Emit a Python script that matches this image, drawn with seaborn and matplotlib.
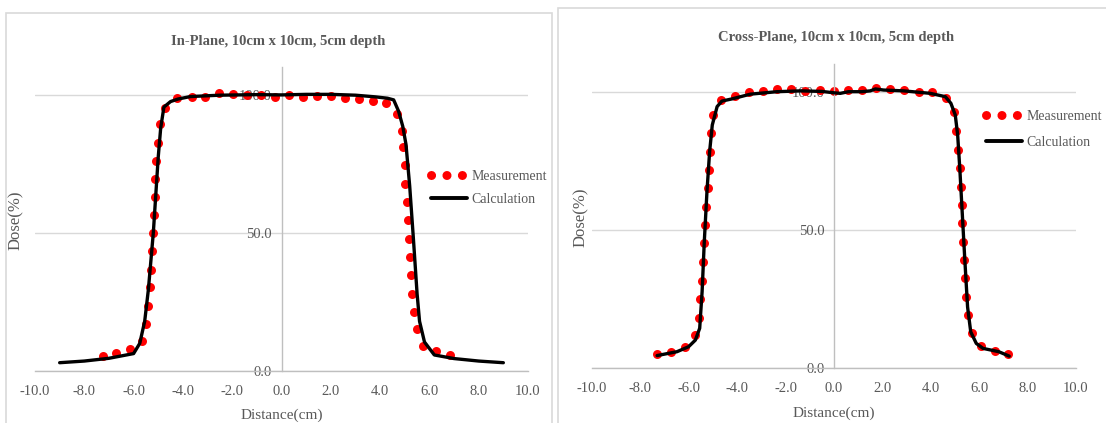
import matplotlib
matplotlib.use("Agg")
import matplotlib.pyplot as plt
from matplotlib.lines import Line2D
from matplotlib.patches import Rectangle
import seaborn as sns
import pandas as pd

# ---------------- data ----------------
in_meas_x = [-7.26, -6.71, -6.14, -5.67, -5.50, -5.40, -5.35, -5.31, -5.27, -5.22,
             -5.18, -5.15, -5.12, -5.08, -5.01, -4.91, -4.73, -4.24, -3.65, -3.10,
             -2.53, -1.95, -1.39, -0.84, -0.26, 0.32, 0.88, 1.45, 2.01, 2.58,
             3.14, 3.70, 4.25, 4.69, 4.87, 4.93, 4.99, 5.03, 5.09, 5.13,
             5.17, 5.22, 5.26, 5.30, 5.36, 5.48, 5.73, 6.28, 6.83]
in_meas_y = [5.6, 6.5, 7.9, 10.9, 17.1, 23.7, 30.3, 36.7, 43.3, 49.8,
             56.4, 63.1, 69.6, 76.1, 82.6, 89.2, 95.2, 98.7, 99.2, 99.3,
             100.6, 100.2, 100.0, 99.8, 99.2, 99.8, 99.2, 99.4, 99.4, 98.8,
             98.6, 97.6, 96.8, 93.1, 87.0, 80.9, 74.4, 67.8, 61.3, 54.6,
             47.9, 41.3, 34.6, 28.0, 21.5, 15.1, 9.2, 7.1, 5.8]
in_calc_x = [-9.0, -8.0, -7.0, -6.0, -5.75, -5.55, -5.4, -5.2, -5.0, -4.9, -4.77,
             -4.5, -4.2, -3.7, -2.5, -1.0, 0.0, 1.0, 2.0, 3.0, 3.8, 4.3, 4.55,
             4.75, 4.92, 5.05, 5.2, 5.35, 5.5, 5.6, 5.8, 6.2, 7.0, 8.0, 9.0]
in_calc_y = [3.0, 3.6, 4.6, 6.3, 10.0, 18.0, 29.5, 50.0, 77.5, 88.0, 95.5,
             97.5, 98.4, 99.3, 99.8, 100.0, 99.9, 100.1, 100.1, 99.8, 99.2, 98.7, 98.1,
             94.0, 88.5, 82.0, 67.0, 48.0, 28.0, 18.0, 10.5, 5.8, 4.5, 3.6, 3.0]

cross_meas_x = [-7.31, -6.74, -6.17, -5.73, -5.59, -5.52, -5.45, -5.41, -5.36, -5.32,
                -5.28, -5.22, -5.18, -5.14, -5.08, -5.00, -4.67, -4.08, -3.53, -2.93,
                -2.36, -1.76, -1.19, -0.59, 0.0, 0.57, 1.16, 1.75, 2.33, 2.90,
                3.50, 4.07, 4.64, 4.97, 5.06, 5.14, 5.20, 5.24, 5.27, 5.30,
                5.33, 5.36, 5.40, 5.45, 5.52, 5.70, 6.09, 6.64, 7.21]
cross_meas_y = [4.9, 5.8, 7.6, 11.9, 18.1, 24.9, 31.6, 38.5, 45.1, 51.8,
                58.4, 65.1, 71.7, 78.3, 85.0, 91.7, 97.1, 98.7, 100.1, 100.4,
                101.1, 101.1, 100.5, 100.7, 100.5, 100.7, 100.7, 101.6, 101.1, 100.7,
                100.1, 99.9, 97.9, 92.6, 85.9, 79.1, 72.3, 65.7, 59.0, 52.4,
                45.7, 39.1, 32.4, 25.8, 19.1, 12.5, 7.9, 6.0, 5.1]
cross_calc_x = [-7.31, -6.49, -6.01, -5.73, -5.55, -5.45, -5.36, -5.25, -5.14, -5.03,
                -4.83, -4.63, -4.21, -3.46, -2.36, -1.39, -0.5, 0.0, 0.26, 0.6,
                1.15, 1.5, 1.71, 2.05, 2.88, 3.98, 4.6, 4.83, 5.01, 5.11,
                5.2, 5.3, 5.4, 5.52, 5.65, 5.88, 6.16, 6.81, 7.24]
cross_calc_y = [4.4, 5.8, 7.6, 10.0, 14.3, 27.6, 45.7, 63.8, 78.3, 88.0,
                94.7, 96.7, 97.5, 99.2, 100.1, 100.4, 100.2, 99.7, 99.5, 100.1,
                100.1, 100.4, 101.1, 100.7, 100.4, 99.5, 98.3, 95.9, 91.7, 84.4,
                72.0, 56.0, 40.0, 22.0, 13.0, 8.8, 7.0, 5.8, 4.2]

titles = ["In-Plane, 10cm x 10cm, 5cm depth", "Cross-Plane, 10cm x 10cm, 5cm depth"]
series_names = ["Measurement", "Calculation"]
x_label = "Distance(cm)"
y_label = "Dose(%)"
x_ticks = [-10, -8, -6, -4, -2, 0, 2, 4, 6, 8, 10]
y_ticks = [0, 50, 100]

# ---------------- style ----------------
sns.set_theme(style="white")
plt.rcParams["font.family"] = ["Liberation Serif", "DejaVu Serif"]
TXT = "#595959"
GRID = "#d9d9d9"
AXL = "#bfbfbf"

W, H = 1106, 423
fig = plt.figure(figsize=(W / 100, H / 100), dpi=100)

# chart-area borders (two Excel chart boxes)
fig.add_artist(Rectangle((6 / W, -0.02), (552 - 6) / W, 1 - 13 / H + 0.02,
                         transform=fig.transFigure, fill=False, ec="#d9d9d9", lw=1.2))
fig.add_artist(Rectangle((558 / W, -0.02), (1110 - 558) / W, 1 - 8 / H + 0.02,
                         transform=fig.transFigure, fill=False, ec="#d9d9d9", lw=1.2))

panels = [
    dict(rect=[35 / W, 1 - 371 / H, 493 / W, 304 / H],
         mx=in_meas_x, my=in_meas_y, cx=in_calc_x, cy=in_calc_y,
         title_xy=(278 / W, 1 - 41 / H), ylab_x=16 / W, ylab_y=1 - 220 / H,
         xlab_y=1 - 415 / H, leg_xy=(431 / W, 1 - 188 / H), leg_sp=0.75),
    dict(rect=[592 / W, 1 - 367.7 / H, 484 / W, 303.3 / H],
         mx=cross_meas_x, my=cross_meas_y, cx=cross_calc_x, cy=cross_calc_y,
         title_xy=(836.5 / W, 1 - 37 / H), ylab_x=581 / W, ylab_y=1 - 217 / H,
         xlab_y=1 - 413 / H, leg_xy=(986 / W, 1 - 129.5 / H), leg_sp=0.95),
]

for i, p in enumerate(panels):
    ax = fig.add_axes(p["rect"])
    ax.set_facecolor("none")
    dm = pd.DataFrame({"x": p["mx"], "y": p["my"]})
    dc = pd.DataFrame({"x": p["cx"], "y": p["cy"]})
    sns.lineplot(data=dc, x="x", y="y", ax=ax, color="black", lw=2.4,
                 sort=False, estimator=None, zorder=3)
    sns.scatterplot(data=dm, x="x", y="y", ax=ax, color="#ff0000", s=42,
                    linewidth=0, zorder=2)
    ax.set_xlim(-10, 10)
    ax.set_ylim(0, 110)
    ax.set_xticks(x_ticks)
    ax.set_xticklabels([f"{v:.1f}" for v in x_ticks])
    ax.set_yticks(y_ticks)
    ax.set_yticklabels([f"{v:.1f}" for v in y_ticks])
    ax.yaxis.grid(True, color=GRID, lw=1.0)
    ax.xaxis.grid(False)
    ax.set_axisbelow(True)
    for s in ["top", "right"]:
        ax.spines[s].set_visible(False)
    ax.spines["left"].set_position(("data", 0))
    ax.spines["left"].set_color(AXL)
    ax.spines["bottom"].set_color(AXL)
    ax.spines["left"].set_linewidth(1.0)
    ax.spines["bottom"].set_linewidth(1.0)
    ax.tick_params(axis="both", length=0, labelsize=10.5, labelcolor=TXT)
    ax.tick_params(axis="y", pad=7)
    ax.tick_params(axis="x", pad=10)
    ax.set_xlabel("")
    ax.set_ylabel("")
    fig.text(p["title_xy"][0], p["title_xy"][1], titles[i], ha="center", va="center",
             fontsize=10.5, fontweight="bold", color=TXT)
    fig.text(p["ylab_x"], p["ylab_y"], y_label, rotation=90, ha="center", va="center",
             fontsize=12, color=TXT)
    fig.text(p["rect"][0] + p["rect"][2] / 2, p["xlab_y"], x_label, ha="center",
             va="center", fontsize=11, color=TXT)
    handles = [
        Line2D([], [], color="#ff0000", lw=6.5, linestyle=(0, (0.01, 1.7)),
               dash_capstyle="round"),
        Line2D([], [], color="black", lw=2.8),
    ]
    leg = ax.legend(handles, series_names, loc="center left",
                    bbox_to_anchor=p["leg_xy"], bbox_transform=fig.transFigure,
                    frameon=False, fontsize=10, handlelength=2.6,
                    handletextpad=0.3, labelspacing=p["leg_sp"], borderpad=0,
                    borderaxespad=0)
    for t in leg.get_texts():
        t.set_color(TXT)

fig.savefig("out.png", dpi=100)
